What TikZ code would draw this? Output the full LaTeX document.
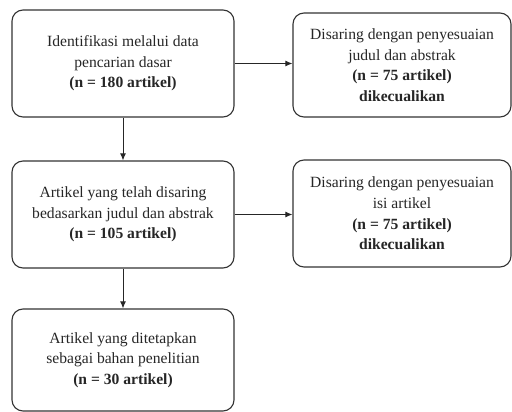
\documentclass[tikz,border=0pt]{standalone}
\usepackage{fontspec}
\setmainfont{Liberation Serif}
\usetikzlibrary{arrows.meta}
\begin{document}
\begin{tikzpicture}[x=1pt,y=-1pt,
  box/.style={draw=black!80,line width=1.1pt,rounded corners=11pt,align=center,
    inner sep=0pt,text=black!85,font=\fontsize{15.6}{20.6}\selectfont},
  conn/.style={draw=black!85,line width=1pt,-{Latex[length=7pt,width=6pt]}}]
\useasboundingbox (0,0) rectangle (512,412);
\node[box,minimum width=222pt,minimum height=107pt] (b1) at (123,63.5)
  {Identifikasi melalui data\\pencarian dasar\\\textbf{(n = 180 artikel)}};
\node[box,minimum width=218pt,minimum height=104pt] (b2) at (402,65)
  {Disaring dengan penyesuaian\\judul dan abstrak\\\textbf{(n = 75 artikel)}\\\textbf{dikecualikan}};
\node[box,minimum width=222pt,minimum height=107pt] (b3) at (123,214.5)
  {Artikel yang telah disaring\\bedasarkan judul dan abstrak\\\textbf{(n = 105 artikel)}};
\node[box,minimum width=218pt,minimum height=107pt] (b4) at (402,213.5)
  {Disaring dengan penyesuaian\\isi artikel\\\textbf{(n = 75 artikel)}\\\textbf{dikecualikan}};
\node[box,minimum width=222pt,minimum height=102pt] (b5) at (123,360)
  {Artikel yang ditetapkan\\sebagai bahan penelitian\\\textbf{(n = 30 artikel)}};
\draw[conn] (b1.east) -- (b1.east -| b2.west);
\draw[conn] (b3.east) -- (b3.east -| b4.west);
\draw[conn] (b1.south) -- (b3.north);
\draw[conn] (b3.south) -- (b5.north);
\end{tikzpicture}
\end{document}
